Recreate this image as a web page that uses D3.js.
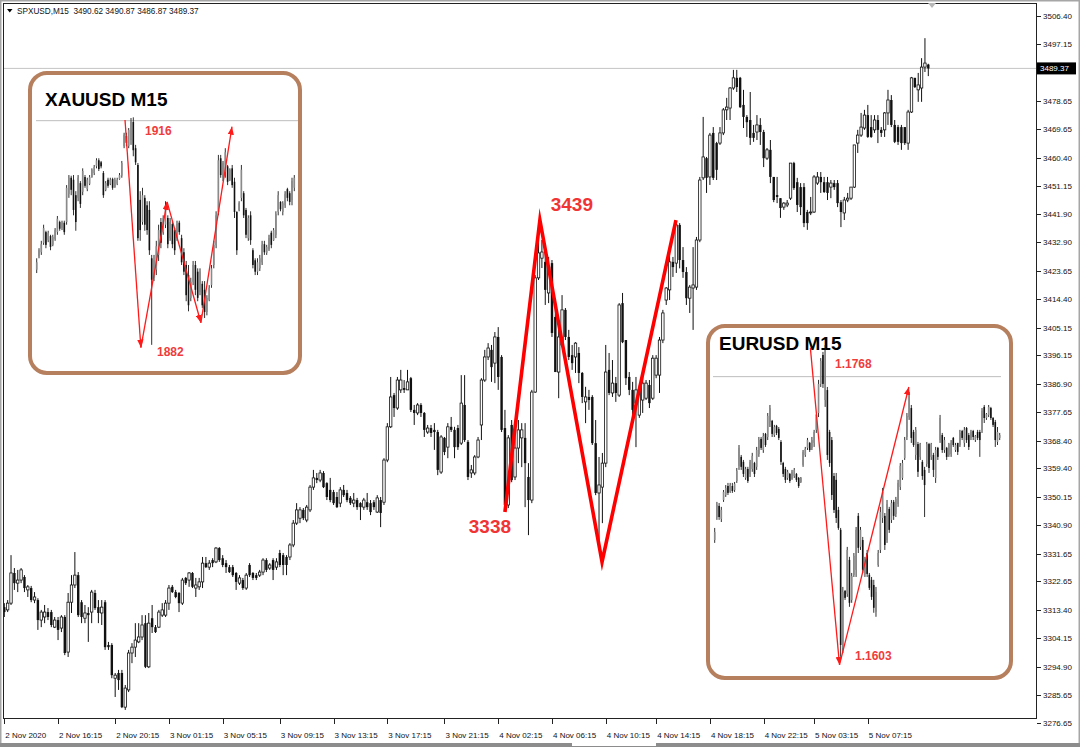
<!DOCTYPE html>
<html>
<head>
<meta charset="utf-8">
<script src="https://cdn.jsdelivr.net/npm/d3@7"></script>
<style>
  body { margin: 0; background: #fff; }
  text { font-family: "Liberation Sans", Arial, sans-serif; }
</style>
</head>
<body>
<div id="chart"></div>
<script>
// SPXUSD M15 candles: [open, high, low, close]
var spxCandles = [
[3314.3,3315.6,3311.1,3312.7],[3313.4,3316.6,3312.7,3315.6],[3315.6,3331.2,3315.0,3325.4],[3325.4,3327.0,3319.9,3322.1],
[3322.1,3326.4,3319.2,3323.1],[3323.1,3327.0,3322.1,3326.4],[3324.1,3324.7,3319.2,3320.5],[3319.9,3321.5,3317.6,3320.9],
[3320.5,3321.2,3315.9,3316.6],[3316.6,3319.2,3315.6,3317.6],[3316.6,3317.2,3306.9,3310.1],[3310.1,3313.4,3307.8,3312.7],
[3311.1,3315.0,3309.1,3312.7],[3312.7,3314.0,3310.1,3311.1],[3312.7,3313.4,3307.8,3308.5],[3307.8,3311.1,3307.5,3310.1],
[3310.1,3311.1,3303.6,3306.9],[3307.5,3311.7,3306.2,3311.1],[3311.1,3311.7,3298.7,3299.4],[3299.7,3318.9,3298.1,3315.9],
[3315.9,3324.7,3312.4,3321.5],[3321.5,3332.2,3320.5,3324.7],[3324.7,3325.7,3311.1,3311.7],[3315.9,3316.6,3309.1,3311.1],
[3310.7,3315.0,3309.1,3312.4],[3312.4,3314.3,3303.0,3311.7],[3312.7,3319.9,3309.1,3319.2],[3318.9,3319.9,3313.4,3314.0],
[3314.3,3316.6,3309.1,3312.4],[3312.4,3316.6,3308.5,3314.3],[3315.9,3316.6,3300.4,3301.3],[3302.0,3303.0,3300.4,3301.3],
[3302.0,3302.6,3291.2,3292.2],[3291.2,3292.9,3285.1,3292.2],[3292.9,3293.9,3287.4,3290.6],[3292.9,3293.9,3281.5,3281.8],
[3281.8,3289.0,3280.9,3288.0],[3287.4,3300.4,3286.7,3299.4],[3299.4,3302.6,3296.1,3301.3],[3301.3,3309.1,3298.1,3303.6],
[3303.0,3309.1,3302.6,3304.6],[3304.6,3311.7,3303.6,3308.5],[3309.1,3311.7,3294.5,3294.9],[3294.9,3312.4,3294.5,3309.1],
[3310.7,3315.0,3305.9,3307.8],[3307.8,3308.5,3305.9,3306.2],[3307.8,3313.4,3307.5,3312.7],[3311.7,3315.6,3311.1,3313.4],
[3311.7,3316.6,3311.1,3315.6],[3315.6,3321.5,3313.4,3320.5],[3320.9,3321.5,3318.9,3319.2],[3319.2,3319.9,3317.2,3317.6],
[3318.9,3319.2,3312.7,3315.6],[3315.6,3323.8,3315.0,3323.1],[3323.8,3324.1,3321.5,3322.1],[3323.1,3325.7,3320.9,3325.4],
[3325.4,3325.7,3320.5,3320.9],[3320.5,3323.8,3317.6,3321.5],[3320.9,3323.8,3319.9,3322.5],[3322.5,3330.6,3320.5,3328.6],
[3328.6,3330.6,3327.0,3327.3],[3327.3,3329.6,3326.4,3328.6],[3329.6,3330.2,3327.3,3328.6],[3329.0,3333.8,3328.6,3333.5],
[3333.5,3333.8,3329.0,3329.6],[3330.2,3331.2,3327.3,3328.0],[3328.6,3329.6,3325.4,3327.3],[3327.3,3328.0,3325.4,3325.7],
[3327.3,3328.0,3324.1,3324.7],[3325.4,3325.7,3319.9,3322.5],[3322.1,3324.7,3321.5,3323.8],[3323.1,3323.8,3319.9,3320.5],
[3320.5,3325.4,3319.9,3324.7],[3328.0,3328.6,3324.1,3324.7],[3325.4,3325.7,3323.1,3323.8],[3324.7,3325.4,3323.1,3323.8],
[3324.7,3326.4,3324.1,3325.7],[3325.7,3330.2,3324.7,3329.6],[3329.6,3330.2,3325.7,3326.4],[3327.0,3328.6,3326.4,3328.0],
[3329.6,3330.2,3323.1,3326.4],[3327.3,3330.2,3326.4,3329.0],[3331.9,3332.9,3327.3,3328.0],[3331.2,3331.9,3324.7,3328.0],
[3330.6,3331.2,3324.7,3328.0],[3330.6,3335.1,3329.6,3334.5],[3334.5,3342.6,3333.8,3341.6],[3341.6,3348.1,3341.0,3345.9],
[3343.2,3346.8,3341.6,3345.9],[3345.9,3346.5,3342.6,3343.2],[3342.6,3347.5,3341.9,3346.8],[3345.9,3354.0,3345.2,3353.3],
[3353.3,3358.9,3352.4,3356.3],[3356.3,3357.9,3354.6,3355.6],[3355.6,3358.9,3354.9,3357.9],[3357.9,3358.5,3353.0,3353.3],
[3354.6,3354.9,3349.1,3350.1],[3352.4,3356.3,3348.4,3349.1],[3351.7,3352.4,3347.5,3348.1],[3350.1,3351.7,3346.5,3346.8],
[3348.1,3353.3,3346.8,3352.4],[3352.4,3354.0,3350.1,3350.7],[3351.4,3352.4,3348.4,3349.1],[3349.8,3350.4,3347.5,3348.1],
[3348.1,3351.4,3346.8,3349.1],[3349.1,3349.8,3345.9,3346.8],[3348.1,3348.4,3342.6,3346.8],[3346.8,3349.8,3345.9,3349.1],
[3348.4,3351.4,3345.9,3346.8],[3348.1,3349.1,3344.2,3345.2],[3348.4,3349.1,3345.9,3346.8],[3345.2,3350.7,3344.9,3349.8],
[3349.1,3350.1,3340.3,3344.9],[3348.4,3362.7,3347.5,3362.1],[3362.1,3374.1,3361.4,3372.9],[3372.9,3389.1,3372.5,3382.6],
[3383.2,3383.9,3376.1,3379.0],[3379.0,3389.1,3378.4,3388.1],[3384.9,3391.4,3383.9,3388.1],[3385.5,3388.1,3383.9,3384.9],
[3384.9,3391.4,3384.9,3387.5],[3388.7,3389.1,3377.7,3378.4],[3378.4,3380.0,3373.5,3377.4],[3377.4,3380.6,3376.7,3380.0],
[3380.0,3380.6,3376.1,3377.4],[3377.4,3377.7,3369.6,3371.9],[3371.2,3373.5,3370.6,3372.5],[3372.5,3373.5,3369.6,3370.9],
[3371.9,3374.1,3365.4,3371.2],[3371.2,3371.9,3357.2,3358.9],[3358.2,3370.2,3357.6,3369.6],[3369.3,3369.6,3363.7,3364.7],
[3366.3,3374.1,3362.7,3372.9],[3372.9,3376.1,3371.2,3371.9],[3371.9,3372.9,3362.7,3366.3],[3372.5,3373.5,3365.4,3366.3],
[3367.6,3389.7,3367.0,3380.6],[3380.0,3389.7,3368.0,3368.6],[3368.0,3368.6,3355.6,3356.6],[3357.9,3360.5,3356.3,3358.9],
[3357.9,3363.7,3357.2,3363.1],[3363.1,3369.6,3362.7,3368.6],[3373.5,3388.7,3368.6,3388.1],[3388.1,3397.9,3387.5,3395.6],
[3395.6,3400.1,3394.6,3398.5],[3397.9,3399.5,3387.5,3392.3],[3393.6,3403.7,3387.1,3402.1],[3402.1,3405.3,3384.9,3389.1],
[3395.6,3396.2,3371.2,3371.9],[3372.5,3378.4,3346.5,3347.5],[3347.5,3370.2,3346.5,3369.3],[3373.5,3375.1,3354.9,3355.6],
[3356.6,3374.1,3355.6,3366.0],[3366.0,3375.1,3361.1,3371.9],[3369.3,3374.1,3359.8,3371.9],[3369.3,3374.1,3346.8,3361.1],
[3356.6,3361.1,3337.7,3349.1],[3349.1,3384.9,3348.1,3384.2],[3384.2,3422.2,3383.9,3421.3],[3421.3,3439.1,3420.6,3429.4],
[3427.7,3433.6,3424.5,3429.7],[3426.5,3431.3,3412.5,3417.4],[3416.4,3428.1,3413.1,3424.8],[3426.1,3427.1,3402.1,3403.4],
[3408.6,3411.8,3390.7,3390.7],[3390.7,3404.4,3382.2,3402.1],[3399.5,3415.7,3398.8,3410.9],[3410.9,3411.5,3401.1,3402.1],
[3402.1,3404.4,3394.6,3395.6],[3396.2,3399.5,3391.4,3393.6],[3395.6,3400.4,3390.4,3400.1],[3396.9,3398.8,3387.1,3390.4],
[3390.4,3390.7,3380.6,3382.6],[3381.0,3385.9,3374.1,3382.6],[3382.6,3384.9,3378.4,3381.6],[3382.6,3383.2,3367.0,3367.6],
[3367.6,3375.1,3350.7,3351.4],[3351.4,3363.1,3336.1,3354.0],[3353.3,3364.4,3341.6,3361.1],[3361.1,3399.5,3359.8,3390.7],
[3391.4,3396.9,3383.2,3383.9],[3383.9,3394.6,3382.6,3387.1],[3387.1,3389.1,3381.0,3383.9],[3383.2,3413.1,3382.6,3412.5],
[3413.1,3416.4,3400.1,3400.4],[3401.1,3401.1,3386.5,3388.7],[3389.1,3390.7,3383.2,3384.9],[3384.9,3387.5,3375.1,3378.4],
[3380.6,3389.1,3366.3,3384.9],[3376.7,3386.5,3375.8,3384.9],[3381.6,3391.4,3377.4,3387.1],[3382.2,3388.1,3381.6,3387.1],
[3386.5,3388.1,3379.0,3380.6],[3382.2,3396.2,3381.6,3395.2],[3389.7,3396.2,3388.7,3395.2],[3389.7,3402.1,3383.9,3401.1],
[3401.1,3410.9,3400.1,3409.9],[3414.1,3418.3,3412.5,3418.0],[3417.4,3429.7,3414.1,3426.5],[3426.5,3428.1,3421.6,3424.8],
[3426.1,3439.1,3422.9,3438.5],[3438.5,3439.1,3424.4,3427.1],[3427.1,3431.3,3421.3,3423.2],[3423.2,3424.8,3412.5,3414.7],
[3414.7,3419.0,3409.9,3418.3],[3418.0,3431.3,3404.4,3419.0],[3418.3,3434.6,3417.4,3433.6],[3433.6,3454.1,3432.9,3453.1],
[3453.8,3473.6,3453.1,3460.6],[3460.2,3460.6,3448.9,3453.8],[3454.1,3468.4,3451.5,3467.7],[3468.4,3470.3,3453.1,3453.8],
[3465.1,3465.5,3453.1,3456.4],[3465.1,3470.3,3464.5,3468.4],[3468.4,3476.5,3467.7,3475.9],[3475.9,3479.8,3472.6,3476.8],
[3476.5,3483.3,3472.6,3483.0],[3483.0,3488.9,3482.4,3486.3],[3486.3,3488.9,3481.7,3483.3],[3486.3,3486.6,3476.5,3476.8],
[3477.5,3482.4,3470.0,3473.6],[3473.6,3474.2,3467.1,3471.9],[3472.6,3481.7,3464.5,3466.8],[3468.4,3471.0,3465.5,3466.8],
[3468.7,3474.2,3466.1,3471.0],[3471.0,3473.2,3464.5,3468.7],[3468.7,3469.4,3457.3,3460.2],[3460.2,3463.5,3459.6,3462.9],
[3462.9,3466.1,3452.1,3454.1],[3454.1,3454.1,3445.9,3446.6],[3448.2,3454.1,3445.6,3447.6],[3447.2,3447.2,3440.8,3444.0],
[3444.3,3445.9,3443.4,3445.6],[3445.0,3446.6,3444.3,3445.6],[3447.2,3458.6,3446.6,3458.6],[3458.6,3459.0,3449.9,3450.5],
[3452.4,3453.8,3442.7,3445.0],[3450.8,3452.1,3441.7,3444.3],[3450.8,3452.1,3437.8,3439.1],[3442.7,3443.4,3436.9,3439.1],
[3442.4,3447.6,3441.7,3442.7],[3442.7,3454.7,3442.4,3454.1],[3452.1,3455.7,3451.5,3454.1],[3454.1,3455.7,3448.9,3452.4],
[3452.4,3454.1,3448.9,3449.2],[3452.4,3454.1,3446.6,3448.9],[3450.8,3453.1,3447.2,3452.1],[3452.1,3453.1,3449.9,3450.8],
[3452.1,3453.1,3444.3,3445.6],[3445.9,3446.6,3437.8,3442.7],[3442.4,3447.6,3440.1,3446.6],[3446.6,3448.9,3445.9,3447.2],
[3447.2,3450.8,3446.6,3450.8],[3450.8,3464.5,3450.5,3464.5],[3465.1,3469.4,3461.9,3467.7],[3467.7,3474.9,3467.1,3470.3],
[3470.0,3475.9,3469.4,3474.2],[3474.2,3477.5,3466.8,3467.1],[3470.3,3474.2,3466.8,3467.1],[3469.4,3474.2,3468.4,3472.6],
[3472.6,3474.2,3465.1,3469.4],[3469.4,3470.3,3467.1,3468.4],[3469.4,3475.2,3467.1,3474.9],[3474.9,3482.4,3471.0,3479.1],
[3479.1,3480.7,3470.3,3471.0],[3471.0,3472.6,3465.1,3465.5],[3470.3,3471.0,3464.5,3465.5],[3470.3,3471.0,3462.9,3465.1],
[3470.3,3470.3,3464.5,3465.1],[3465.1,3475.9,3462.9,3475.2],[3475.2,3486.6,3474.9,3486.3],[3486.3,3486.3,3483.0,3483.3],
[3482.4,3487.9,3478.5,3484.0],[3483.0,3492.7,3478.5,3489.8],[3489.8,3499.2,3488.2,3491.1],[3490.62,3490.87,3486.87,3489.37]
];

var spxPriceTicks = ["3506.40","3497.15","3487.90","3478.65","3469.65","3460.40","3451.15","3441.90","3432.90",
  "3423.65","3414.40","3405.15","3396.15","3386.90","3377.65","3368.40","3359.40","3350.15","3340.90","3331.65",
  "3322.65","3313.40","3304.15","3294.90","3285.65","3276.65"];
var spxTimeLabels = ["2 Nov 2020","2 Nov 16:15","2 Nov 20:15","3 Nov 01:15","3 Nov 05:15","3 Nov 09:15","3 Nov 13:15",
  "3 Nov 17:15","3 Nov 21:15","4 Nov 02:15","4 Nov 06:15","4 Nov 10:15","4 Nov 14:15","4 Nov 18:15","4 Nov 22:15",
  "5 Nov 03:15","5 Nov 07:15"];
var spxTimeIndex = [0,16,33,49,65,82,98,114,131,147,163,179,194,210,226,241,257];
var spxLast = 3489.37;
var spxHeader = "SPXUSD,M15  3490.62 3490.87 3486.87 3489.37";

// hand drawn zigzag on the main chart: [candle index, price]
var spxZigzag = [[149.0,3345.2],[159.4,3440.1],[177.9,3329.0],[199.9,3440.1]];
var spxZigLabels = [["3338",149.0,3345.2],["3439",159.4,3440.1]];

// XAUUSD M15 inset candles
var xauCandles = [
[1893.4,1895.1,1892.9,1894.5],[1895.4,1896.6,1895.1,1896.3],[1896.0,1897.7,1895.6,1897.2],[1897.4,1900.1,1897.1,1899.6],
[1899.0,1899.2,1896.6,1897.1],[1897.8,1899.2,1897.5,1898.9],[1898.4,1898.6,1896.3,1896.8],[1897.1,1898.6,1896.9,1898.3],
[1898.0,1899.6,1897.7,1899.3],[1899.0,1901.4,1898.6,1901.0],[1900.5,1900.7,1899.2,1899.5],[1899.6,1900.7,1899.3,1900.4],
[1900.4,1900.7,1898.6,1899.0],[1900.5,1906.0,1900.1,1905.6],[1904.7,1907.5,1904.1,1907.1],[1907.1,1907.4,1904.5,1905.3],
[1906.8,1907.5,1901.5,1902.3],[1904.5,1905.1,1899.2,1900.5],[1904.1,1907.5,1903.6,1907.1],[1906.3,1906.6,1902.6,1903.2],
[1905.0,1908.5,1904.5,1908.1],[1907.2,1907.5,1905.6,1905.9],[1905.4,1907.1,1905.1,1906.8],[1906.2,1907.5,1906.0,1907.2],
[1907.2,1908.5,1907.1,1908.3],[1907.8,1909.0,1907.5,1908.7],[1908.8,1910.0,1908.5,1909.7],[1909.7,1910.0,1908.1,1908.4],
[1909.4,1909.6,1908.5,1908.8],[1907.8,1908.1,1904.1,1904.5],[1905.3,1906.6,1905.1,1906.3],[1906.8,1907.1,1905.6,1905.9],
[1906.2,1907.1,1906.0,1906.8],[1906.9,1907.1,1905.3,1905.6],[1905.7,1907.1,1905.6,1906.8],[1906.2,1907.1,1906.0,1906.8],
[1906.9,1907.8,1906.8,1907.5],[1907.4,1909.6,1907.1,1909.3],[1911.8,1913.8,1911.5,1913.5],[1913.3,1913.8,1911.8,1912.3],
[1911.8,1914.5,1911.5,1914.2],[1912.7,1916.0,1912.0,1915.4],[1915.4,1916.1,1910.3,1911.2],[1911.5,1912.0,1909.0,1909.4],
[1909.0,1909.3,1897.7,1898.1],[1903.8,1905.1,1897.7,1899.3],[1900.5,1905.6,1900.1,1904.5],[1904.1,1904.5,1899.2,1900.1],
[1903.0,1903.6,1898.6,1899.3],[1902.3,1903.6,1895.6,1896.3],[1895.1,1895.6,1882.2,1891.9],[1892.2,1895.6,1891.7,1894.8],
[1893.4,1897.7,1892.6,1896.9],[1895.6,1900.1,1894.7,1899.3],[1900.5,1901.1,1896.6,1897.4],[1899.0,1901.5,1898.6,1901.1],
[1900.1,1903.6,1899.6,1903.0],[1901.1,1901.5,1896.6,1897.2],[1898.1,1901.1,1897.7,1900.5],[1900.2,1900.7,1896.6,1897.2],
[1899.3,1899.6,1895.6,1896.3],[1898.1,1900.7,1897.7,1900.2],[1900.4,1900.7,1898.6,1899.0],[1898.1,1898.6,1894.1,1894.5],
[1896.0,1896.6,1892.6,1893.1],[1894.1,1894.7,1888.7,1889.6],[1892.6,1894.1,1887.2,1888.1],[1889.2,1892.2,1888.7,1891.6],
[1891.6,1894.7,1891.1,1894.1],[1894.1,1894.7,1889.6,1890.4],[1893.1,1893.6,1888.7,1889.2],[1890.1,1893.6,1889.6,1893.1],
[1891.3,1891.7,1887.7,1888.1],[1890.4,1891.7,1886.2,1887.1],[1887.1,1889.6,1886.6,1889.2],[1888.9,1891.1,1888.7,1890.7],
[1891.1,1894.1,1890.7,1893.6],[1894.1,1897.7,1893.6,1897.1],[1897.1,1902.1,1896.6,1901.5],[1902.0,1910.5,1901.5,1909.7],
[1910.0,1910.5,1907.1,1907.5],[1907.1,1909.6,1906.6,1909.3],[1908.0,1911.5,1907.1,1910.9],[1908.8,1909.0,1906.0,1906.5],
[1906.8,1908.5,1906.6,1908.3],[1908.5,1909.0,1905.6,1906.0],[1906.5,1907.1,1901.1,1902.0],[1902.0,1902.1,1895.6,1896.3],
[1902.3,1903.6,1902.1,1903.3],[1904.1,1909.0,1903.6,1908.3],[1904.8,1905.1,1901.1,1901.5],[1902.3,1902.6,1898.1,1898.6],
[1898.1,1901.5,1897.7,1901.1],[1901.5,1902.1,1897.1,1897.8],[1896.3,1896.6,1893.6,1894.1],[1894.8,1895.1,1892.6,1893.1],
[1893.1,1895.1,1892.6,1894.5],[1893.6,1895.6,1893.2,1895.1],[1894.5,1897.7,1894.1,1897.1],[1897.2,1897.7,1895.6,1896.0],
[1895.9,1897.1,1895.6,1896.8],[1896.5,1898.6,1896.2,1898.1],[1898.9,1899.2,1896.6,1897.1],[1897.8,1899.6,1897.7,1899.3],
[1898.6,1902.1,1898.1,1901.7],[1902.0,1905.1,1901.5,1904.5],[1903.5,1903.6,1902.1,1902.4],[1902.0,1903.6,1901.5,1903.3],
[1903.0,1905.1,1902.6,1904.7],[1905.4,1905.6,1903.6,1904.1],[1904.8,1905.1,1903.0,1903.5],[1903.8,1907.1,1903.0,1906.6],
[1905.6,1907.5,1905.1,1907.1]
];
var xauLevel = 1915.6;
var xauArrows = [[38.4,1915.7],[45.3,1881.8],[56.7,1903.5],[71.4,1885.5],[84.9,1914.7]];
var xauHigh = "1916", xauLow = "1882";

// EURUSD M15 inset candles
var eurCandles = [
[1.16667,1.16730,1.16652,1.16709],[1.16787,1.16866,1.16772,1.16850],[1.16845,1.16860,1.16772,1.16787],[1.16777,1.16840,1.16761,1.16824],
[1.16876,1.16928,1.16866,1.16918],[1.16902,1.16954,1.16892,1.16939],[1.16949,1.16965,1.16902,1.16913],[1.16918,1.16965,1.16913,1.16954],
[1.16949,1.16965,1.16913,1.16923],[1.16928,1.16970,1.16918,1.16960],[1.16975,1.17043,1.16965,1.17028],[1.17054,1.17163,1.17033,1.17148],
[1.17101,1.17111,1.17033,1.17049],[1.17075,1.17085,1.16996,1.17012],[1.16991,1.17049,1.16981,1.17038],[1.17038,1.17049,1.16965,1.16975],
[1.17012,1.17085,1.16996,1.17075],[1.17038,1.17122,1.17023,1.17106],[1.17069,1.17075,1.16996,1.17012],[1.17049,1.17153,1.17033,1.17137],
[1.17116,1.17205,1.17101,1.17189],[1.17195,1.17205,1.17137,1.17148],[1.17137,1.17226,1.17122,1.17210],[1.17221,1.17226,1.17153,1.17163],
[1.17205,1.17330,1.17189,1.17315],[1.17283,1.17372,1.17257,1.17356],[1.17289,1.17294,1.17205,1.17221],[1.17215,1.17268,1.17205,1.17257],
[1.17263,1.17268,1.17215,1.17226],[1.17247,1.17257,1.17189,1.17200],[1.17179,1.17189,1.17059,1.17075],[1.17069,1.17075,1.16996,1.17012],
[1.17038,1.17049,1.16965,1.16981],[1.16991,1.17033,1.16981,1.17023],[1.17012,1.17017,1.16965,1.16975],[1.16986,1.17033,1.16981,1.17023],
[1.17001,1.17043,1.16991,1.17033],[1.17012,1.17017,1.16970,1.16981],[1.16991,1.16996,1.16939,1.16949],[1.16970,1.16996,1.16965,1.16991],
[1.17059,1.17137,1.17049,1.17127],[1.17111,1.17153,1.17101,1.17143],[1.17148,1.17200,1.17137,1.17189],[1.17174,1.17179,1.17127,1.17137],
[1.17148,1.17205,1.17137,1.17189],[1.17174,1.17242,1.17153,1.17231],[1.17242,1.17325,1.17226,1.17320],[1.17330,1.17503,1.17309,1.17482],
[1.17482,1.17617,1.17466,1.17602],[1.17633,1.17649,1.17461,1.17482],[1.17398,1.17685,1.17362,1.17659],[1.17450,1.17466,1.17085,1.17111],
[1.17231,1.17242,1.17049,1.17069],[1.17189,1.17205,1.16876,1.16902],[1.17001,1.17017,1.16808,1.16824],[1.16981,1.17017,1.16756,1.16782],
[1.16824,1.16840,1.16720,1.16730],[1.16720,1.16730,1.16057,1.16119],[1.16104,1.16422,1.16077,1.16396],[1.16401,1.16406,1.16354,1.16365],
[1.16386,1.16631,1.16370,1.16615],[1.16563,1.16579,1.16318,1.16339],[1.16354,1.16495,1.16339,1.16479],[1.16485,1.16599,1.16474,1.16584],
[1.16511,1.16735,1.16474,1.16720],[1.16793,1.16808,1.16599,1.16626],[1.16631,1.16735,1.16615,1.16720],[1.16667,1.16683,1.16495,1.16511],
[1.16490,1.16579,1.16474,1.16563],[1.16599,1.16615,1.16474,1.16490],[1.16485,1.16495,1.16406,1.16417],[1.16459,1.16474,1.16354,1.16370],
[1.16432,1.16459,1.16287,1.16313],[1.16292,1.16422,1.16266,1.16396],[1.16537,1.16615,1.16527,1.16599],[1.16615,1.16840,1.16599,1.16813],
[1.16782,1.16939,1.16756,1.16918],[1.16793,1.16808,1.16615,1.16641],[1.16667,1.16876,1.16652,1.16855],[1.16829,1.16840,1.16704,1.16720],
[1.16772,1.16876,1.16756,1.16860],[1.16866,1.16876,1.16772,1.16793],[1.16803,1.16892,1.16787,1.16881],[1.16855,1.16981,1.16840,1.16965],
[1.16944,1.17069,1.16928,1.17054],[1.16991,1.17085,1.16981,1.17069],[1.17095,1.17205,1.17085,1.17189],[1.17205,1.17330,1.17189,1.17315],
[1.17309,1.17440,1.17294,1.17424],[1.17356,1.17372,1.17174,1.17200],[1.17231,1.17242,1.17153,1.17163],[1.17111,1.17257,1.17085,1.17242],
[1.17168,1.17179,1.16996,1.17023],[1.17101,1.17174,1.17085,1.17168],[1.17075,1.17085,1.16981,1.17001],[1.17033,1.17049,1.16787,1.16954],
[1.17064,1.17179,1.17049,1.17168],[1.17168,1.17174,1.17017,1.17043],[1.17101,1.17174,1.17085,1.17168],[1.17111,1.17122,1.16996,1.17033],
[1.16991,1.17153,1.16965,1.17137],[1.17148,1.17153,1.17085,1.17101],[1.17189,1.17320,1.17174,1.17304],[1.17215,1.17226,1.17122,1.17137],
[1.17137,1.17205,1.17122,1.17189],[1.17148,1.17153,1.17085,1.17101],[1.17111,1.17174,1.17101,1.17168],[1.17116,1.17189,1.17101,1.17174],
[1.17200,1.17205,1.17153,1.17163],[1.17137,1.17174,1.17127,1.17163],[1.17174,1.17174,1.17111,1.17127],[1.17163,1.17242,1.17153,1.17226],
[1.17236,1.17242,1.17189,1.17200],[1.17174,1.17257,1.17153,1.17242],[1.17252,1.17257,1.17174,1.17189],[1.17215,1.17226,1.17137,1.17153],
[1.17200,1.17242,1.17189,1.17231],[1.17236,1.17242,1.17189,1.17205],[1.17189,1.17215,1.17179,1.17210],[1.17231,1.17242,1.17189,1.17200],
[1.17231,1.17242,1.17101,1.17189],[1.17242,1.17356,1.17226,1.17341],[1.17362,1.17372,1.17278,1.17304],[1.17304,1.17330,1.17294,1.17325],
[1.17320,1.17372,1.17309,1.17362],[1.17356,1.17362,1.17294,1.17304],[1.17304,1.17309,1.17257,1.17268],[1.17283,1.17294,1.17153,1.17189],
[1.17179,1.17257,1.17163,1.17231],[1.17200,1.17226,1.17189,1.17215]
];
var eurLevel = 1.17520;
var eurArrows = [[43.3,1.17670],[56.5,1.16015],[87.9,1.17466]];
var eurHigh = "1.1768", eurLow = "1.1603";

var W = 1080, H = 747;
var svg = d3.select("#chart").append("svg")
  .attr("width", W).attr("height", H)
  .style("display", "block");

svg.append("rect").attr("width", W).attr("height", H).attr("fill", "#fff");

var defs = svg.append("defs");
defs.append("marker")
  .attr("id", "arrowhead")
  .attr("viewBox", "0 0 10 8")
  .attr("refX", 10).attr("refY", 4)
  .attr("markerWidth", 8).attr("markerHeight", 6.5)
  .attr("markerUnits", "userSpaceOnUse")
  .attr("orient", "auto")
  .append("path").attr("d", "M0,0L10,4L0,8Z").attr("fill", "#ff1a1a");

// main scales
var x = d3.scaleLinear().domain([0, spxCandles.length - 1]).range([4.3, 928.3]);
var y = d3.scaleLinear().domain([3276.65, 3506.40]).range([723, 16]);

function drawCandles(g, data, xs, ys, bw, style) {
  var c = g.selectAll("g.candle").data(data).enter().append("g").attr("class", "candle");
  c.append("line")
    .attr("x1", function(d, i) { return xs(i); })
    .attr("x2", function(d, i) { return xs(i); })
    .attr("y1", function(d) { return ys(d[1]); })
    .attr("y2", function(d) { return ys(d[2]); })
    .attr("stroke", style.wick).attr("stroke-width", style.wickW);
  c.append("rect")
    .attr("x", function(d, i) { return xs(i) - bw / 2; })
    .attr("width", bw)
    .attr("y", function(d) { return ys(Math.max(d[0], d[3])); })
    .attr("height", function(d) { return Math.max(0.8, Math.abs(ys(d[0]) - ys(d[3]))); })
    .attr("fill", function(d) { return d[3] >= d[0] ? style.upFill : style.downFill; })
    .attr("stroke", function(d) { return d[3] >= d[0] ? style.upStroke : "none"; })
    .attr("stroke-width", style.upStrokeW);
}

// current price line (behind the candles)
svg.append("line")
  .attr("x1", 3).attr("x2", 1036)
  .attr("y1", y(spxLast)).attr("y2", y(spxLast))
  .attr("stroke", "#c4c4c4").attr("stroke-width", 1);

var main = svg.append("g");
drawCandles(main, spxCandles, x, y, 2.4, {
  wick: "#111", wickW: 1, upFill: "#fff", upStroke: "#111", upStrokeW: 0.8, downFill: "#111"
});

// chart frame
svg.append("rect")
  .attr("x", 3.5).attr("y", 3.5).attr("width", 1033).attr("height", 715)
  .attr("fill", "none").attr("stroke", "#222").attr("stroke-width", 1);

// chart shift marker
svg.append("path").attr("d", "M928,3L936,3L932,8Z").attr("fill", "#b8b8b8");

// price axis (labels hidden under the last price box are skipped)
var pa = svg.append("g");
pa.selectAll("line").data(spxPriceTicks).enter().append("line")
  .attr("x1", 1037).attr("x2", 1041)
  .attr("y1", function(d) { return Math.round(y(+d)) + 0.5; })
  .attr("y2", function(d) { return Math.round(y(+d)) + 0.5; })
  .attr("stroke", "#222");
pa.selectAll("text").data(spxPriceTicks.filter(function(d) { return Math.abs(y(+d) - y(spxLast)) > 10; }))
  .enter().append("text")
  .attr("x", 1043).attr("y", function(d) { return y(+d) + 3; })
  .attr("font-size", 8).attr("fill", "#111").text(function(d) { return d; });

// last price box
svg.append("rect").attr("x", 1037).attr("y", y(spxLast) - 6).attr("width", 39).attr("height", 12).attr("fill", "#000");
svg.append("text").attr("x", 1040).attr("y", y(spxLast) + 3)
  .attr("font-size", 8).attr("fill", "#fff").text(spxLast.toFixed(2));

// time axis
var ta = svg.append("g");
ta.selectAll("line").data(spxTimeIndex).enter().append("line")
  .attr("x1", function(d) { return Math.round(x(d)) + 0.5; })
  .attr("x2", function(d) { return Math.round(x(d)) + 0.5; })
  .attr("y1", 719).attr("y2", 724).attr("stroke", "#222");
ta.selectAll("text").data(spxTimeIndex).enter().append("text")
  .attr("x", function(d) { return x(d) + 1; })
  .attr("y", 738)
  .attr("font-size", 8).attr("fill", "#111")
  .text(function(d, i) { return spxTimeLabels[i]; });

// header
svg.append("path").attr("d", "M7,9L12.5,9L9.75,12.5Z").attr("fill", "#000");
svg.append("text").attr("x", 17).attr("y", 14).attr("font-size", 8.2).attr("fill", "#111")
  .attr("xml:space", "preserve").style("white-space", "pre").text(spxHeader);

// window border
svg.append("rect").attr("x", 0.75).attr("y", 0.75).attr("width", W - 1.5).attr("height", H - 1.5)
  .attr("fill", "none").attr("stroke", "#a6a6a6").attr("stroke-width", 1.5);
svg.append("rect").attr("x", 0).attr("y", 743).attr("width", W).attr("height", 4).attr("fill", "#8c8c8c");
svg.append("rect").attr("x", 572).attr("y", 743).attr("width", 84).attr("height", 3).attr("fill", "#fff");

// red zigzag on the main chart
var lineMain = d3.line().x(function(d) { return x(d[0]); }).y(function(d) { return y(d[1]); });
svg.append("path").attr("d", lineMain(spxZigzag))
  .attr("fill", "none").attr("stroke", "#ff0000").attr("stroke-width", 3.6)
  .attr("stroke-linejoin", "miter").attr("stroke-miterlimit", 10);
svg.append("text").attr("x", x(spxZigLabels[0][1]) - 15).attr("y", y(spxZigLabels[0][2]) + 21)
  .attr("text-anchor", "middle").attr("font-size", 19).attr("font-weight", "bold").attr("fill", "#f03434")
  .text(spxZigLabels[0][0]);
svg.append("text").attr("x", x(spxZigLabels[1][1]) + 32).attr("y", y(spxZigLabels[1][2]) - 9)
  .attr("text-anchor", "middle").attr("font-size", 19).attr("font-weight", "bold").attr("fill", "#f03434")
  .text(spxZigLabels[1][0]);

// inset panels
function drawInset(opt) {
  var g = svg.append("g");
  g.append("rect").attr("x", opt.box[0]).attr("y", opt.box[1]).attr("width", opt.box[2]).attr("height", opt.box[3])
    .attr("rx", 17).attr("fill", "#fff").attr("stroke", "#b67f5e").attr("stroke-width", 4);
  g.append("text").attr("x", opt.titlePos[0]).attr("y", opt.titlePos[1])
    .attr("font-size", 19).attr("font-weight", "bold").attr("fill", "#000").text(opt.title);
  g.append("line").attr("x1", opt.levelX[0]).attr("x2", opt.levelX[1])
    .attr("y1", opt.ys(opt.level)).attr("y2", opt.ys(opt.level))
    .attr("stroke", "#bdbdbd").attr("stroke-width", 1);
  drawCandles(g, opt.data, opt.xs, opt.ys, 1.6, {
    wick: "#1a1a1a", wickW: 0.9, upFill: "#8a8a8a", upStroke: "none", upStrokeW: 0, downFill: "#111"
  });
  var ln = d3.line().x(function(d) { return opt.xs(d[0]); }).y(function(d) { return opt.ys(d[1]); });
  for (var k = 0; k < opt.arrows.length - 1; k++) {
    g.append("path").attr("d", ln([opt.arrows[k], opt.arrows[k + 1]]))
      .attr("fill", "none").attr("stroke", "#ff1a1a").attr("stroke-width", 1.3)
      .attr("marker-end", "url(#arrowhead)");
  }
  opt.labels.forEach(function(l) {
    g.append("text").attr("x", l[1]).attr("y", l[2])
      .attr("font-size", 12).attr("font-weight", "bold").attr("fill", "#f03c3c").text(l[0]);
  });
}

var xauX = d3.scaleLinear().domain([0, xauCandles.length - 1]).range([36.7, 294.3]);
var xauY = d3.scaleLinear().domain([1882, 1916]).range([346.2, 118]);
drawInset({
  box: [30, 73, 270, 300], title: "XAUUSD M15", titlePos: [45, 106],
  level: xauLevel, levelX: [36, 298], data: xauCandles, xs: xauX, ys: xauY, arrows: xauArrows,
  labels: [[xauHigh, 145, 135], [xauLow, 157, 356]]
});

var eurX = d3.scaleLinear().domain([0, eurCandles.length - 1]).range([714.7, 999.7]);
var eurY = d3.scaleLinear().domain([1.1603, 1.1768]).range([662, 346]);
drawInset({
  box: [708, 326, 303, 352], title: "EURUSD M15", titlePos: [719, 350],
  level: eurLevel, levelX: [713, 1001], data: eurCandles, xs: eurX, ys: eurY, arrows: eurArrows,
  labels: [[eurHigh, 835, 368], [eurLow, 855, 660]]
});
</script>
</body>
</html>
